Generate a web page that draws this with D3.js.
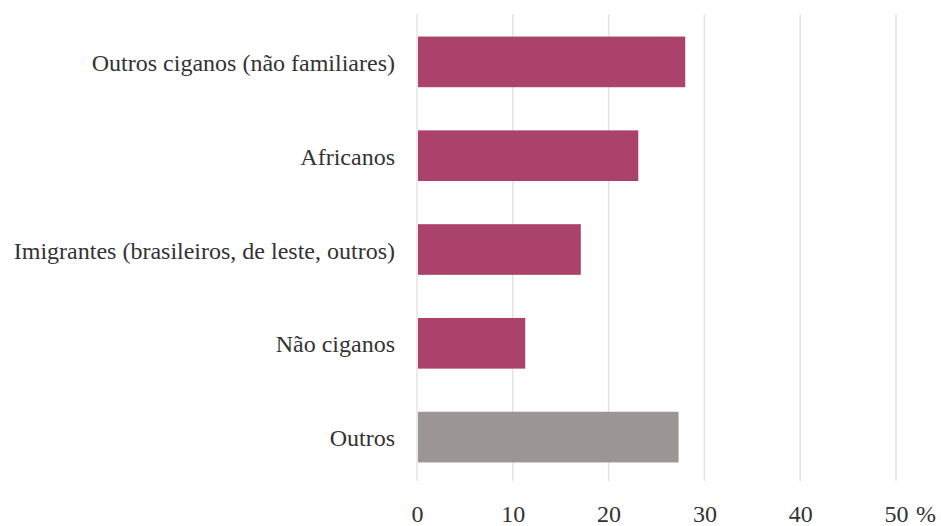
<!DOCTYPE html>
<html><head><meta charset="utf-8">
<script src="https://cdn.jsdelivr.net/npm/d3@7"></script>
<style>body{margin:0;background:#fff}svg{display:block}</style>
</head><body>
<svg id="c" width="941" height="526"></svg>
<script>
const categories = ["Outros ciganos (não familiares)", "Africanos", "Imigrantes (brasileiros, de leste, outros)", "Não ciganos", "Outros"];
const values = [28.0, 23.1, 17.1, 11.3, 27.3];
const barColors = ["#ab426c", "#ab426c", "#ab426c", "#ab426c", "#9b9693"];
const tickValues = [0, 10, 20, 30, 40, 50];
const unitLabel = "%";

const svg = d3.select("#c");
const x = d3.scaleLinear().domain([0, 50]).range([417, 896]);
const y = d3.scaleBand().domain(categories).range([15, 484]).paddingInner(0.46).paddingOuter(0.23);

// gridlines
svg.append("g").selectAll("line").data(tickValues).join("line")
  .attr("x1", d => x(d)).attr("x2", d => x(d))
  .attr("y1", 14).attr("y2", 481)
  .attr("stroke", "#e3e3e3").attr("stroke-width", 1.5);

// bars
svg.append("g").selectAll("rect").data(values).join("rect")
  .attr("x", x(0) + 1)
  .attr("y", (d, i) => y(categories[i]))
  .attr("width", d => x(d) - x(0) - 1)
  .attr("height", y.bandwidth())
  .attr("fill", (d, i) => barColors[i]);

// category labels
const yAxis = d3.axisLeft(y).tickSize(0).tickPadding(0);
const gy = svg.append("g").attr("transform", "translate(395,0)").call(yAxis);
gy.select(".domain").remove();
gy.selectAll("text").attr("font-family", "'Liberation Serif', 'Times New Roman', serif")
  .attr("font-size", 24).attr("fill", "#333").attr("dy", "0.38em");

// x axis tick labels
const xAxis = d3.axisBottom(x).tickValues(tickValues).tickSize(0).tickPadding(0);
const gx = svg.append("g").attr("transform", "translate(0,505)").call(xAxis);
gx.select(".domain").remove();
gx.selectAll("text").attr("font-family", "'Liberation Serif', 'Times New Roman', serif")
  .attr("font-size", 24).attr("fill", "#333").attr("dy", "0.71em").attr("y", 0);

svg.append("text").attr("x", x(50) + 20).attr("y", 522)
  .attr("font-family", "'Liberation Serif', 'Times New Roman', serif")
  .attr("font-size", 24).attr("fill", "#333").text(unitLabel);
</script>
</body></html>
